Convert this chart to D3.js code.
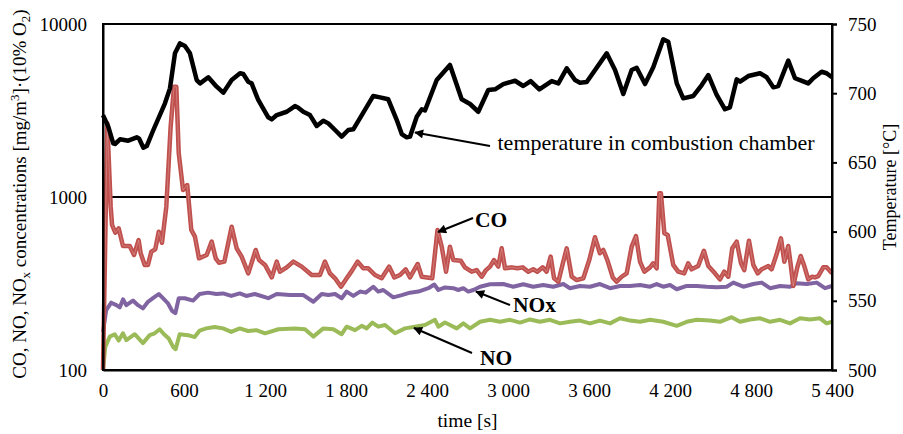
<!DOCTYPE html>
<html>
<head>
<meta charset="utf-8">
<script src="https://cdn.jsdelivr.net/npm/d3@7"></script>
<style>
  html, body { margin: 0; padding: 0; background: #fff; }
  svg { display: block; font-family: "Liberation Serif", "Times New Roman", serif; }
</style>
</head>
<body>
<svg id="chart" width="903" height="434"></svg>
<script>
// Combustion chamber temperature [°C] over time [s]
const tempTime = [0,39,76,89,126,187,250,267,299,324,373,459,496,533,570,607,644,694,719,780,842,891,953,1015,1039,1076,1101,1150,1224,1250,1287,1361,1422,1444,1484,1533,1583,1632,1669,1719,1768,1817,1854,1928,2002,2052,2113,2176,2213,2250,2274,2324,2361,2385,2472,2570,2657,2719,2780,2854,2904,2965,3052,3113,3168,3232,3324,3373,3435,3496,3533,3583,3731,3793,3854,3916,3953,4015,4076,4150,4187,4250,4298,4373,4435,4484,4546,4607,4644,4694,4719,4780,4867,4916,4965,5002,5076,5126,5163,5224,5261,5323,5360,5400];
const temperature = [684.2,675.8,663.8,663.3,666.7,665.7,668.1,667.3,660.6,661.8,673.4,692.7,703.5,728.8,736.0,734.1,728.8,709.5,707.1,711.5,704.7,700.4,709.5,714.4,713.9,708.3,707.1,695.1,682.6,681.1,684.2,686.6,690.7,689.7,686.6,684.2,676.3,680.1,678.2,673.4,668.6,673.4,673.9,685.9,698.0,697.0,695.6,680.6,670.5,668.1,668.6,683.0,688.4,687.5,709.5,720.4,695.6,692.2,686.6,702.3,702.8,706.6,709.0,705.2,708.8,702.8,708.8,707.1,718.0,709.5,707.6,708.1,728.8,716.8,699.4,716.8,718.4,706.6,718.7,738.9,737.2,707.1,696.3,698.0,705.9,713.1,698.7,688.4,689.8,710.0,708.3,712.4,714.4,711.5,704.3,705.2,723.5,710.8,709.5,707.1,710.8,715.5,714.4,711.5];

// CO concentration [mg/m3]
const coTime = [0,32,57,67,91,116,148,198,230,264,279,309,333,358,387,413,437,469,501,526,543,561,593,624,654,681,711,768,805,835,859,899,953,990,1027,1076,1131,1156,1200,1250,1287,1311,1361,1410,1472,1546,1607,1644,1681,1719,1763,1805,1842,1886,1928,1965,2015,2064,2119,2158,2200,2242,2274,2331,2361,2439,2478,2509,2541,2570,2595,2650,2681,2731,2768,2805,2837,2867,2896,2928,2953,2978,3027,3069,3109,3150,3187,3217,3257,3286,3316,3341,3373,3405,3435,3472,3509,3558,3602,3644,3681,3706,3736,3776,3805,3842,3879,3916,3948,3978,4010,4052,4076,4101,4121,4133,4158,4183,4224,4261,4305,4335,4360,4409,4451,4484,4533,4570,4602,4632,4661,4694,4726,4750,4785,4817,4850,4879,4928,4953,4990,5022,5047,5076,5096,5113,5143,5168,5195,5224,5254,5274,5298,5335,5360,5400];
const co = [100,2667,879,689,622,659,521,521,462,564,473,405,405,483,498,630,544,879,2549,4341,4341,1789,1097,1173,645,590,442,462,552,442,417,423,673,505,452,362,494,432,405,343,423,370,392,423,396,354,354,423,362,339,303,339,373,423,387,387,354,339,396,343,354,382,343,410,346,339,645,516,370,516,432,428,392,370,378,346,378,396,432,396,505,387,392,387,392,370,382,370,392,370,452,339,324,410,505,346,331,339,432,585,473,494,432,343,324,346,362,516,595,423,370,392,414,387,1050,1050,617,603,405,370,362,414,382,399,489,399,362,334,370,346,505,552,414,378,559,405,362,382,399,382,468,577,423,521,396,306,392,456,399,334,346,343,349,392,392,362];

// NOx concentration [mg/m3]
const noxTime = [0,24,61,99,124,148,173,222,259,296,333,370,413,444,481,511,536,561,605,667,716,778,839,889,950,1013,1061,1124,1224,1287,1385,1484,1558,1620,1669,1719,1768,1805,1854,1904,1946,2002,2039,2076,2150,2213,2274,2336,2410,2454,2484,2533,2595,2632,2669,2706,2743,2793,2867,2965,3039,3113,3187,3261,3335,3410,3459,3533,3607,3681,3756,3830,3904,3978,4052,4101,4150,4200,4250,4324,4398,4472,4546,4620,4669,4743,4817,4879,4941,5015,5089,5138,5213,5287,5348,5400];
const nox = [166,222,245,237,230,256,237,252,237,227,248,260,275,260,243,220,213,260,260,252,275,280,275,277,268,277,268,275,260,275,271,271,248,275,271,275,260,284,268,284,280,303,284,290,263,271,280,284,297,312,290,300,297,290,297,284,290,303,313,314,303,313,303,310,303,314,297,306,303,314,297,306,306,310,303,314,303,310,293,306,306,303,301,303,320,303,314,320,297,306,303,317,314,320,297,306];

// NO concentration [mg/m3]
const noTime = [0,17,50,87,116,148,173,235,296,346,383,420,452,487,519,538,568,630,679,716,765,827,889,950,1013,1074,1136,1200,1299,1422,1496,1558,1632,1706,1768,1805,1867,1916,1953,1995,2039,2089,2163,2237,2311,2385,2459,2484,2533,2570,2620,2669,2719,2793,2867,2941,3015,3089,3163,3237,3311,3385,3459,3533,3607,3681,3756,3830,3904,3978,4052,4150,4250,4324,4398,4496,4570,4657,4719,4793,4867,4941,5015,5089,5163,5237,5311,5360,5400];
const no = [100,136,156,161,148,163,149,161,143,159,163,172,161,152,136,132,161,159,155,169,174,177,174,166,174,168,170,163,172,174,172,156,174,172,161,178,170,180,174,188,178,182,163,174,178,182,195,178,188,182,174,186,174,190,195,190,195,188,196,190,195,186,190,193,186,193,186,199,193,190,195,190,180,190,195,193,190,202,190,196,199,190,195,186,199,196,199,186,190];

// Axis ticks
const timeTicks = [0,600,1200,1800,2400,3000,3600,4200,4800,5400];
const timeTickLabels = ["0","600","1 200","1 800","2 400","3 000","3 600","4 200","4 800","5 400"];
const concTicks = [100,1000,10000];
const tempTicks = [500,550,600,650,700,750];

const svg = d3.select("#chart");
const margin = {left: 103, right: 71, top: 24, bottom: 64};
const W = 903, H = 434;
const x0 = margin.left, x1 = W - margin.right, y0 = H - margin.bottom, y1 = margin.top;

const x = d3.scaleLinear().domain([0, 5400]).range([x0, x1]);
const yC = d3.scaleLog().domain([100, 10000]).range([y0, y1]);
const yT = d3.scaleLinear().domain([500, 750]).range([y0, y1]);

const FONT = 19;

// gridline at 1000
svg.append("line")
  .attr("x1", x0).attr("x2", x1)
  .attr("y1", yC(1000)).attr("y2", yC(1000))
  .attr("stroke", "#000").attr("stroke-width", 2);

const zip = (a, b) => a.map((t, i) => [t, b[i]]);

const lineC = d3.line().x(d => x(d[0])).y(d => yC(d[1]));
const lineT = d3.line().x(d => x(d[0])).y(d => yT(d[1]));

const plot = svg.append("g");

plot.append("path").datum(zip(noTime, no))
  .attr("d", lineC).attr("fill", "none")
  .attr("stroke", "#9bbb59").attr("stroke-width", 4)
  .attr("stroke-linejoin", "round");

plot.append("path").datum(zip(noxTime, nox))
  .attr("d", lineC).attr("fill", "none")
  .attr("stroke", "#8064a2").attr("stroke-width", 4)
  .attr("stroke-linejoin", "round");

// CO drawn as a double line: red body with a faint light core
plot.append("path").datum(zip(coTime, co))
  .attr("d", lineC).attr("fill", "none")
  .attr("stroke", "#c0504d").attr("stroke-width", 4.5)
  .attr("stroke-linejoin", "round");
plot.append("path").datum(zip(coTime, co))
  .attr("d", lineC).attr("fill", "none")
  .attr("stroke", "#fff").attr("stroke-opacity", 0.3).attr("stroke-width", 0.8)
  .attr("stroke-linejoin", "round");

plot.append("path").datum(zip(tempTime, temperature))
  .attr("d", lineT).attr("fill", "none")
  .attr("stroke", "#000").attr("stroke-width", 4.5)
  .attr("stroke-linejoin", "round");

// frame
svg.append("rect")
  .attr("x", x0).attr("y", y1)
  .attr("width", x1 - x0).attr("height", y0 - y1)
  .attr("fill", "none").attr("stroke", "#000").attr("stroke-width", 2);

// axes
const gx = svg.append("g").attr("transform", `translate(0,${y0})`)
  .call(d3.axisBottom(x).tickValues(timeTicks).tickSize(0).tickPadding(14)
    .tickFormat((d, i) => timeTickLabels[i]));
const gl = svg.append("g").attr("transform", `translate(${x0},0)`)
  .call(d3.axisLeft(yC).tickValues(concTicks).tickSize(0).tickPadding(16)
    .tickFormat(d3.format("d")));
const gr = svg.append("g").attr("transform", `translate(${x1},0)`)
  .call(d3.axisRight(yT).tickValues(tempTicks).tickSize(5).tickPadding(11));

[gx, gl, gr].forEach(g => {
  g.select(".domain").attr("stroke", "#000").attr("stroke-width", 2);
  g.selectAll(".tick line").attr("stroke", "#000").attr("stroke-width", 2);
  g.selectAll("text").attr("font-family", "Liberation Serif, Times New Roman, serif")
    .attr("font-size", FONT).attr("fill", "#000");
});

// axis titles
svg.append("text")
  .attr("x", (x0 + x1) / 2).attr("y", 427)
  .attr("text-anchor", "middle").attr("font-size", 19.5)
  .text("time [s]");

const lt = svg.append("text")
  .attr("transform", "translate(26,194) rotate(-90)")
  .attr("text-anchor", "middle").attr("font-size", FONT);
lt.append("tspan").text("CO, NO, NO");
lt.append("tspan").attr("dy", 4).attr("font-size", 13).text("x");
lt.append("tspan").attr("dy", -4).text(" concentrations [mg/m");
lt.append("tspan").attr("dy", -7).attr("font-size", 13).text("3");
lt.append("tspan").attr("dy", 7).text("]·(10% O");
lt.append("tspan").attr("dy", 4).attr("font-size", 13).text("2");
lt.append("tspan").attr("dy", -4).text(")");

svg.append("text")
  .attr("transform", "translate(896,187) rotate(-90)")
  .attr("text-anchor", "middle").attr("font-size", 18)
  .text("Temperature [°C]");

// annotation arrows
svg.append("defs").append("marker")
  .attr("id", "arrow").attr("viewBox", "0 0 10 10")
  .attr("refX", 9).attr("refY", 5)
  .attr("markerUnits", "userSpaceOnUse")
  .attr("markerWidth", 11).attr("markerHeight", 9)
  .attr("orient", "auto")
  .append("path").attr("d", "M0,0 L10,5 L0,10 Z").attr("fill", "#000");

const arrows = [
  {from: [490, 146], to: [415, 132.5]},
  {from: [473, 218], to: [438, 232]},
  {from: [510, 305], to: [476, 291.5]},
  {from: [472, 353], to: [414, 328]}
];
svg.selectAll("line.arrow").data(arrows).enter().append("line")
  .attr("class", "arrow")
  .attr("x1", d => d.from[0]).attr("y1", d => d.from[1])
  .attr("x2", d => d.to[0]).attr("y2", d => d.to[1])
  .attr("stroke", "#000").attr("stroke-width", 2)
  .attr("marker-end", "url(#arrow)");

svg.append("text").attr("x", 497.5).attr("y", 150)
  .attr("font-size", 22).text("temperature in combustion chamber");
svg.append("text").attr("x", 475).attr("y", 227)
  .attr("font-size", 21.5).attr("font-weight", "bold").text("CO");
svg.append("text").attr("x", 513).attr("y", 312)
  .attr("font-size", 21.5).attr("font-weight", "bold").text("NOx");
svg.append("text").attr("x", 480).attr("y", 365)
  .attr("font-size", 21.5).attr("font-weight", "bold").text("NO");
</script>
</body>
</html>
